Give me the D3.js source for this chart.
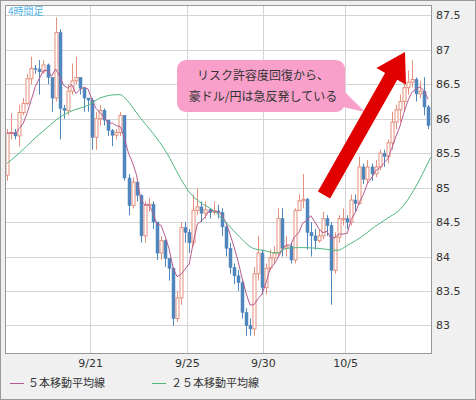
<!DOCTYPE html>
<html><head><meta charset="utf-8">
<script src="https://cdn.jsdelivr.net/npm/d3@7"></script>
<style>body{margin:0;background:#fff}svg{display:block;font-family:"Noto Sans CJK JP","DejaVu Sans",sans-serif}</style>
</head><body><svg id="c" width="476" height="400"></svg>
<script>
const closes=[85.79,85.8,85.75,86.09,86.22,86.58,86.73,86.72,86.68,86.78,
86.6,86.3,87.25,86.15,86.12,86.4,86.55,86.6,86.44,86.3,
86.27,85.73,86.0,86.12,85.98,85.83,85.76,85.8,86.05,85.14,
84.74,85.08,84.89,84.3,84.74,84.76,84.5,84.05,84.23,83.97,
83.83,83.1,83.4,84.42,84.35,84.2,84.67,84.72,84.63,84.68,
84.64,84.66,84.64,84.43,84.12,83.84,83.72,83.62,83.19,83.0,
82.95,83.75,84.05,83.55,83.83,83.98,84.05,84.55,84.12,84.15,
83.95,84.67,84.81,84.83,84.35,84.3,84.23,84.3,84.55,84.45,
83.8,84.28,84.55,84.55,84.5,84.82,84.77,85.3,85.12,85.3,
85.2,85.3,85.5,85.45,85.65,85.95,86.13,86.25,86.45,86.53,
86.57,86.36,86.4,86.17,85.9];
const firstOpen=85.18;
const highs=[85.85,86.08,85.85,86.2,86.3,86.65,86.9,86.78,86.85,86.85,
86.8,86.55,87.47,87.3,86.2,86.5,86.8,86.9,86.55,86.35,
86.3,86.3,86.1,86.2,86.15,85.9,85.85,85.85,86.1,86.05,
85.2,85.15,85.1,84.9,84.8,84.85,84.8,84.5,84.3,84.25,
83.95,83.85,83.5,84.5,84.5,84.4,84.9,84.99,84.8,84.8,
84.7,84.8,84.75,84.7,84.5,84.2,83.9,83.8,83.65,83.25,
83.1,83.85,84.3,84.1,83.9,84.1,84.15,84.7,84.7,84.3,
84.2,84.7,84.9,85.2,84.85,84.5,84.4,84.4,84.65,84.6,
84.5,84.35,84.6,84.7,84.6,84.9,84.9,85.45,85.35,85.4,
85.35,85.4,85.55,85.55,85.7,86.1,86.2,86.35,86.5,86.7,
86.85,86.6,86.55,86.6,86.2];
const lows=[85.1,85.7,85.7,85.6,86.05,86.2,86.5,86.65,86.35,86.65,
86.5,86.1,86.25,85.7,86.0,86.05,86.35,86.5,86.35,86.1,
86.1,85.55,85.55,85.9,85.9,85.75,85.6,85.7,85.75,85.1,
84.6,84.7,84.8,84.2,84.2,84.65,84.4,83.95,83.95,83.85,
83.65,83.0,83.05,83.3,84.2,84.05,84.15,84.6,84.5,84.55,
84.55,84.6,84.55,84.3,84.0,83.75,83.6,83.5,83.1,82.85,
82.85,82.85,83.65,83.45,83.45,83.8,83.9,84.0,84.0,84.0,
83.9,83.9,84.7,84.7,84.1,84.0,84.1,84.2,84.25,84.3,
83.3,83.75,84.2,84.45,84.4,84.45,84.65,84.75,85.05,85.05,
85.1,85.15,85.25,85.3,85.35,85.55,85.85,85.95,86.1,86.35,
86.45,86.25,86.3,86.05,85.85];
const ma25Idx=[0,3.2,6.4,9.9,13,16.3,19.8,23,25.4,27.9,29.6,32.8,36,39.5,42.7,45.2,47.6,50.9,54.3,57.5,60.7,63.2,66.7,69.1,73,76.5,81.7,84,87.4,90.5,93.8,97.5,100.4,104.6];
const ma25Val=[85.35,85.51,85.69,85.87,86.02,86.12,86.19,86.30,86.34,86.35,86.27,86.02,85.79,85.50,85.15,84.92,84.79,84.67,84.48,84.28,84.12,84.09,84.05,84.12,84.13,84.12,84.09,84.16,84.28,84.42,84.55,84.71,84.96,85.44];
const yTicks=[83,83.5,84,84.5,85,85.5,86,86.5,87,87.5];
const dateLabels=["9/21","9/25","9/30","10/5"];
const dateIdx=[20.5,44.4,63.2,83.5];

const svg=d3.select("#c");
const L=5,R=432,T=5,B=353;
svg.append("rect").attr("x",0.5).attr("y",0.5).attr("width",475).attr("height",399).attr("fill","#f0f0f0").attr("stroke","#999");
svg.append("rect").attr("x",L).attr("y",T).attr("width",R-L).attr("height",B-T).attr("fill","#fff");
const x=d3.scaleLinear().domain([0,104]).range([7,428.2]);
const y=d3.scaleLinear().domain([82.6,87.65]).range([B,T]);
const g=svg.append("g");
g.selectAll(".hg").data(yTicks).join("line").attr("x1",L).attr("x2",R).attr("y1",d=>Math.round(y(d))+0.5).attr("y2",d=>Math.round(y(d))+0.5).attr("stroke","#d4d4d4");
g.selectAll(".vg").data(dateIdx).join("line").attr("y1",T).attr("y2",B).attr("x1",d=>Math.round(x(d))+0.5).attr("x2",d=>Math.round(x(d))+0.5).attr("stroke","#d4d4d4");
const ya=d3.axisRight(y).tickValues(yTicks).tickSize(0).tickPadding(4).tickFormat(d=>d);
svg.append("g").attr("transform",`translate(${R},0)`).call(ya).call(s=>{s.select(".domain").remove();s.selectAll("text").attr("font-size",11).attr("fill","#333").attr("font-family","DejaVu Sans");});
const xa=d3.axisBottom(d3.scaleLinear().domain([0,104]).range([7,428.2])).tickValues(dateIdx).tickSize(0).tickPadding(6).tickFormat((d,i)=>dateLabels[i]);
svg.append("g").attr("transform",`translate(0,${B})`).call(xa).call(s=>{s.select(".domain").remove();s.selectAll("text").attr("font-size",11).attr("fill","#333").attr("font-family","DejaVu Sans");});

const data=closes.map((c,i)=>({i,c,o:i?closes[i-1]:firstOpen,h:highs[i],l:lows[i]}));
const up="#e5907c",dn="#4f86bd";
const cg=g.append("g");
data.forEach(d=>{
  const u=d.c>=d.o, cx=Math.round(x(d.i))+0.5, col=u?up:dn;
  cg.append("line").attr("x1",cx).attr("x2",cx).attr("y1",y(Math.max(d.h,d.o,d.c))).attr("y2",y(Math.min(d.l,d.o,d.c))).attr("stroke",col);
  const top=y(Math.max(d.o,d.c)),bot=y(Math.min(d.o,d.c));
  cg.append("rect").attr("x",cx-1.5).attr("y",top).attr("width",3).attr("height",Math.max(1,bot-top)).attr("fill",u?"#fff":dn).attr("stroke",col).attr("stroke-width",u?1:0.5);
});
const ma5=closes.map((c,i)=>{const s=closes.slice(Math.max(0,i-4),i+1);return {i,v:d3.mean(s)};});
g.append("path").datum(ma5).attr("d",d3.line().x(d=>x(d.i)).y(d=>y(d.v))).attr("fill","none").attr("stroke","#b55a8e").attr("stroke-width",1);
g.append("path").datum(ma25Idx.map((d,i)=>[d,ma25Val[i]])).attr("d",d3.line().curve(d3.curveMonotoneX).x(d=>x(d[0])).y(d=>y(d[1]))).attr("fill","none").attr("stroke","#4cb87c").attr("stroke-width",1);
svg.append("rect").attr("x",L+0.5).attr("y",T+0.5).attr("width",R-L-1).attr("height",B-T).attr("fill","none").attr("stroke","#999");

svg.append("text").attr("x",8).attr("y",15).attr("font-size",10).attr("fill","#4db5e6").text("4時間足");
// callout
svg.append("path").attr("d","M335,82 L365,112 L330,104 Z").attr("fill","#f8a0ca");
svg.append("rect").attr("x",177).attr("y",60).attr("width",168).attr("height",52).attr("rx",9).attr("fill","#f8a0ca");
svg.append("text").attr("x",263).attr("y",80).attr("text-anchor","middle").attr("font-size",12).attr("fill","#333").text("リスク許容度回復から、");
svg.append("text").attr("x",263).attr("y",101).attr("text-anchor","middle").attr("font-size",12).attr("fill","#333").text("豪ドル/円は急反発している");
// red arrow
(function(){const x0=324,y0=195,x1=405,y1=52;const ang=Math.atan2(y1-y0,x1-x0);const len=Math.hypot(x1-x0,y1-y0);
const hw=7,hl=28,hh=17;
const pts=[[0,-hw],[len-hl,-hw],[len-hl,-hh],[len,0],[len-hl,hh],[len-hl,hw],[0,hw]].map(([a,b])=>[x0+a*Math.cos(ang)-b*Math.sin(ang),y0+a*Math.sin(ang)+b*Math.cos(ang)]);
svg.append("polygon").attr("points",pts.map(p=>p.join(",")).join(" ")).attr("fill","#e00000");})();
// legend
svg.append("line").attr("x1",10).attr("x2",24).attr("y1",383.5).attr("y2",383.5).attr("stroke","#b55a8e");
svg.append("text").attr("x",28).attr("y",387).attr("font-size",11).attr("fill","#333").text("５本移動平均線");
svg.append("line").attr("x1",152).attr("x2",166).attr("y1",383.5).attr("y2",383.5).attr("stroke","#4cb87c");
svg.append("text").attr("x",171).attr("y",387).attr("font-size",11).attr("fill","#333").text("２５本移動平均線");
</script></body></html>
